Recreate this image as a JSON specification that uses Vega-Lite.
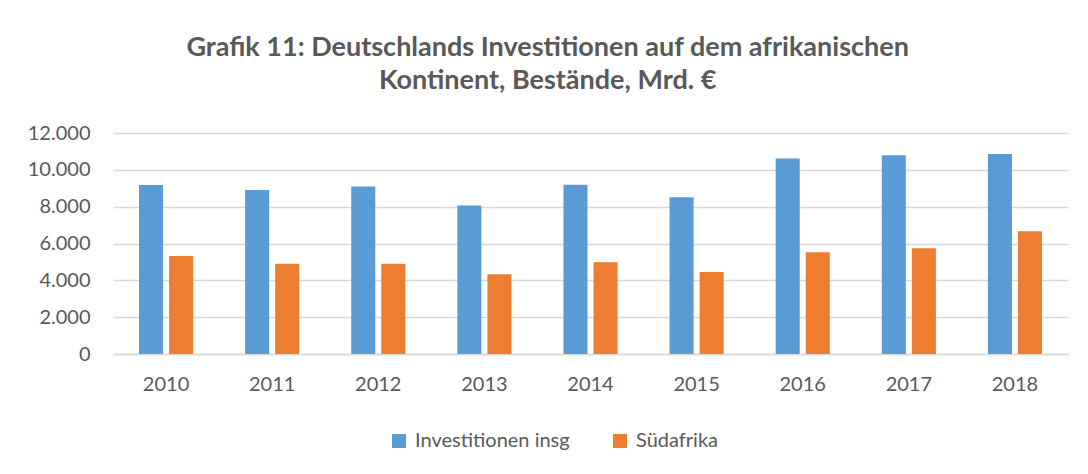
{
  "$schema": "https://vega.github.io/schema/vega-lite/v6.json",
  "width": 955,
  "height": 221,
  "autosize": {"type": "none"},
  "padding": {"left": 113, "top": 133, "right": 20, "bottom": 120},
  "background": "white",
  "title": {
    "text": ["Grafik 11: Deutschlands Investitionen auf dem afrikanischen", "Kontinent, Bestände, Mrd. €"],
    "anchor": "middle",
    "frame": "bounds",
    "font": "Lato",
    "fontSize": 27,
    "fontWeight": "bold",
    "color": "#595959",
    "lineHeight": 33,
    "offset": 28
  },
  "data": {
    "values": [
      {"Jahr": "2010", "Reihe": "Investitionen insg", "Wert": 9180},
      {"Jahr": "2010", "Reihe": "Südafrika", "Wert": 5320},
      {"Jahr": "2011", "Reihe": "Investitionen insg", "Wert": 8900},
      {"Jahr": "2011", "Reihe": "Südafrika", "Wert": 4900},
      {"Jahr": "2012", "Reihe": "Investitionen insg", "Wert": 9100},
      {"Jahr": "2012", "Reihe": "Südafrika", "Wert": 4900},
      {"Jahr": "2013", "Reihe": "Investitionen insg", "Wert": 8070},
      {"Jahr": "2013", "Reihe": "Südafrika", "Wert": 4330},
      {"Jahr": "2014", "Reihe": "Investitionen insg", "Wert": 9190},
      {"Jahr": "2014", "Reihe": "Südafrika", "Wert": 4980},
      {"Jahr": "2015", "Reihe": "Investitionen insg", "Wert": 8510},
      {"Jahr": "2015", "Reihe": "Südafrika", "Wert": 4450},
      {"Jahr": "2016", "Reihe": "Investitionen insg", "Wert": 10620},
      {"Jahr": "2016", "Reihe": "Südafrika", "Wert": 5520},
      {"Jahr": "2017", "Reihe": "Investitionen insg", "Wert": 10790},
      {"Jahr": "2017", "Reihe": "Südafrika", "Wert": 5740},
      {"Jahr": "2018", "Reihe": "Investitionen insg", "Wert": 10860},
      {"Jahr": "2018", "Reihe": "Südafrika", "Wert": 6660}
    ]
  },
  "mark": {"type": "bar"},
  "encoding": {
    "x": {
      "field": "Jahr",
      "type": "nominal",
      "scale": {"paddingInner": 0.49, "paddingOuter": 0.245},
      "axis": {
        "title": null,
        "labelAngle": 0,
        "ticks": false,
        "labelPadding": 20,
        "domainColor": "#D9D9D9",
        "domainWidth": 1.5,
        "grid": false,
        "labelFont": "Lato",
        "labelFontSize": 20,
        "labelColor": "#595959"
      }
    },
    "xOffset": {
      "field": "Reihe",
      "type": "nominal",
      "scale": {"paddingInner": 0.2, "paddingOuter": 0}
    },
    "y": {
      "field": "Wert",
      "type": "quantitative",
      "scale": {"domain": [0, 12000]},
      "axis": {
        "title": null,
        "values": [0, 2000, 4000, 6000, 8000, 10000, 12000],
        "format": ",d",
        "labelExpr": "replace(datum.label, ',', '.')",
        "ticks": false,
        "domain": false,
        "labelPadding": 23,
        "gridColor": "#D9D9D9",
        "gridWidth": 1.5,
        "labelFont": "Lato",
        "labelFontSize": 20,
        "labelColor": "#595959"
      }
    },
    "color": {
      "field": "Reihe",
      "type": "nominal",
      "scale": {"domain": ["Investitionen insg", "Südafrika"], "range": ["#5B9BD5", "#ED7D31"]},
      "legend": {
        "title": null,
        "orient": "none",
        "direction": "horizontal",
        "legendX": 276,
        "legendY": 298,
        "symbolType": "square",
        "symbolSize": 196,
        "symbolStrokeWidth": 0,
        "labelFont": "Lato",
        "labelFontSize": 20,
        "labelColor": "#595959",
        "labelOffset": 6,
        "columnPadding": 40
      }
    }
  },
  "config": {
    "view": {"stroke": null}
  }
}
